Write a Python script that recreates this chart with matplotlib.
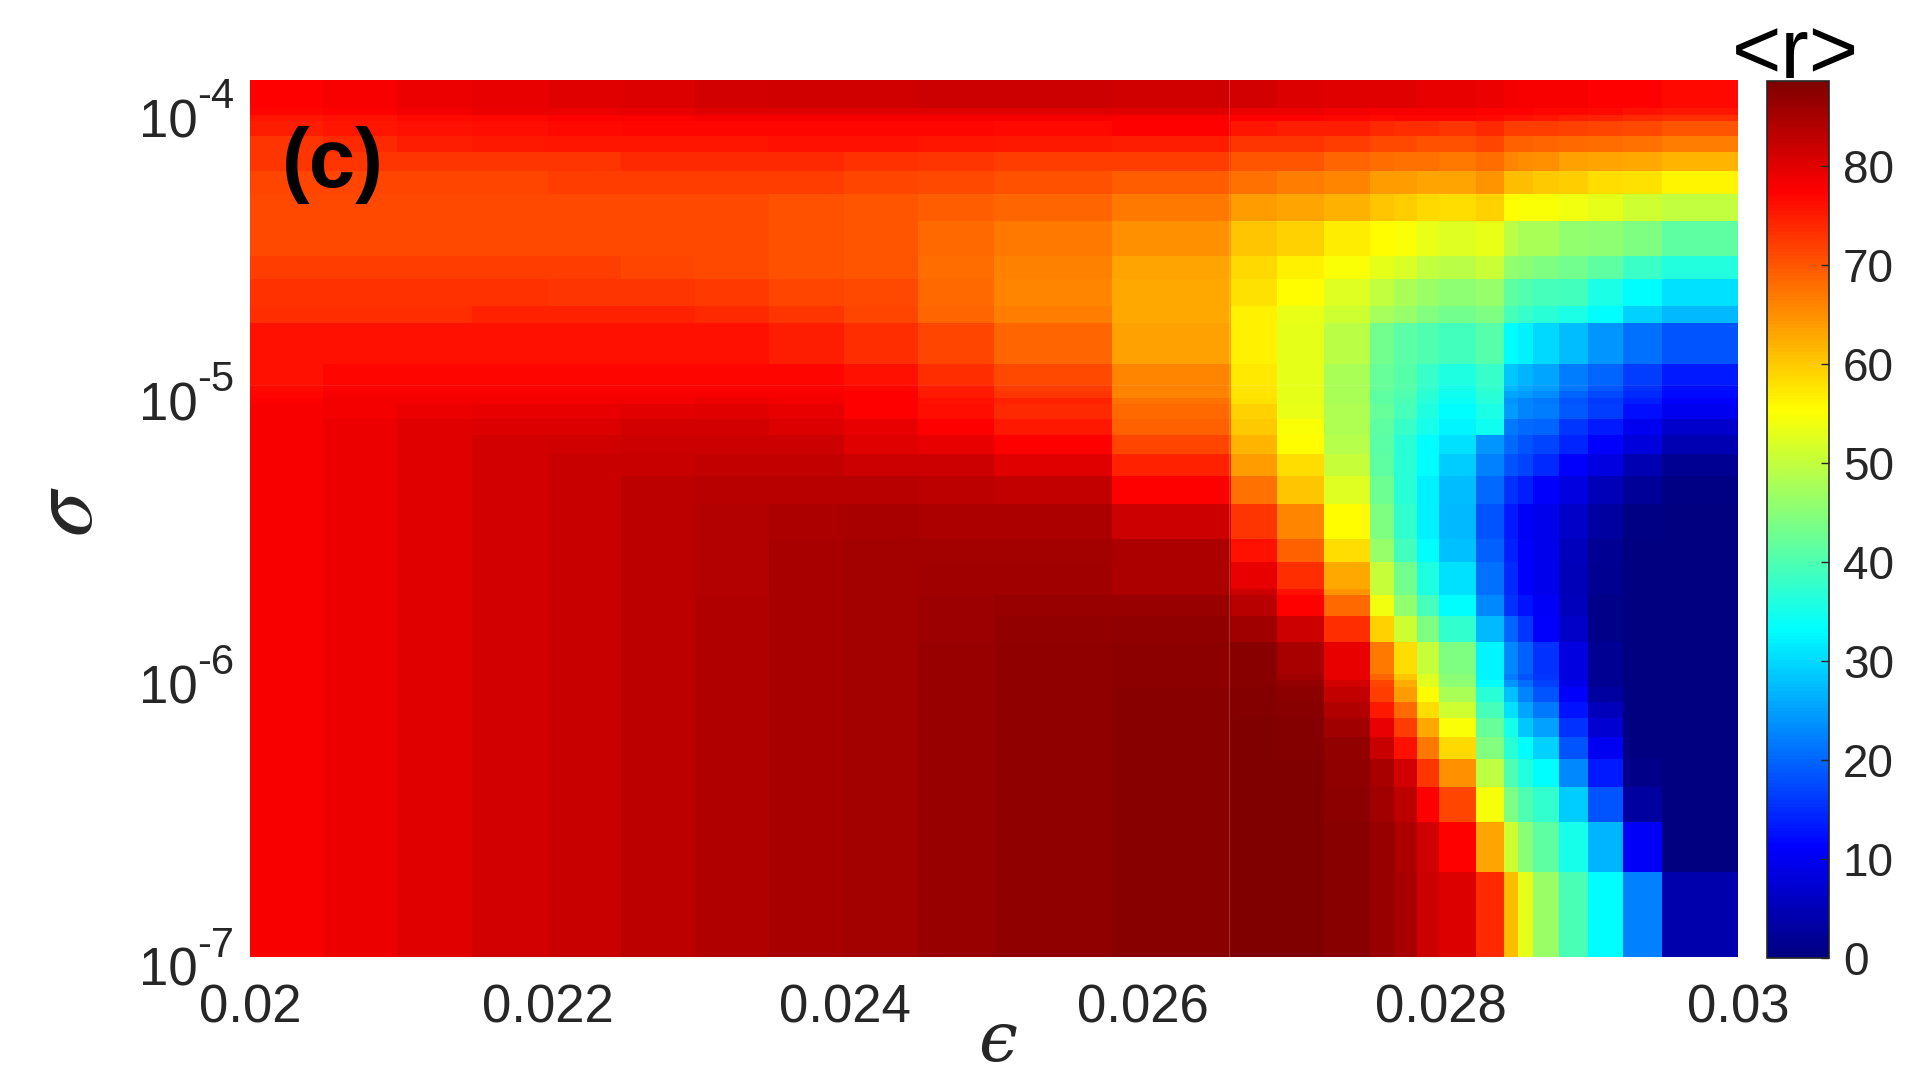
import numpy as np
import matplotlib
matplotlib.use("Agg")
import matplotlib.pyplot as plt
from matplotlib.colors import LinearSegmentedColormap

plt.rcParams["font.family"] = ["Liberation Sans", "DejaVu Sans"]
plt.rcParams["mathtext.fontset"] = "stix"

# cell edges
eps_edges = [0.0200, 0.02049, 0.02099, 0.02149, 0.02200, 0.02249, 0.02299, 0.02349, 0.02399,
             0.02449, 0.02500, 0.02579, 0.02659, 0.02690, 0.02722, 0.02753, 0.02769, 0.02784,
             0.02799, 0.02824, 0.02843, 0.02852, 0.02862, 0.02880, 0.02899, 0.02923, 0.02949, 0.0300]
sigma_edges = [1.26e-4, 1e-4, 9.5e-5, 9e-5, 8e-5, 7e-5, 6e-5, 5e-5, 4e-5, 3e-5, 2.5e-5, 2e-5, 1.75e-5,
               1.25e-5, 1.05e-5, 1e-5, 9.5e-6, 9e-6, 8e-6, 7e-6, 6e-6, 5e-6, 4e-6, 3e-6, 2.5e-6, 2e-6,
               1.9e-6, 1.6e-6, 1.3e-6, 1e-6, 9.5e-7, 9e-7, 8e-7, 7e-7, 6e-7, 5e-7, 4e-7, 3e-7, 2e-7, 1e-7]

# <r>, one row per sigma band, top to bottom
r_grid = [
    [77.5,78,79,79.5,80,80.5,81,81.5,81.5,82,82,81.5,81,80.5,80,80,80,79.5,79.5,79,78.5,78.2,78,78,77.5,77.4,76.5],
    [77,77.5,78.5,79,79,79.5,80,80,80,80,80,80,79,79,78.5,78,78,78,78,77.5,77.5,77.5,77,77,76.5,76,75.5],
    [75.5,76,76.5,77,77.5,77.8,78,78,78,78,78,77.8,77.5,77.3,77,76.5,77,77,77,76.5,76,76,75.5,75,74.5,74,73.5],
    [75,75.5,76,76.3,76.5,77,77,77,77,77,76.8,77.5,75.7,75,75,74,73.5,73.5,73,74,72,72,72,71.8,71.4,71,70],
    [73,74,75,75.2,75.5,75.5,75.5,76,76,75.5,75.3,75,73,72.7,72.3,71.2,71,70.5,70.5,71.5,69.2,69.2,68.8,68.4,68,67.5,66.6],
    [72.7,72.7,73,73,73,74,74,74,73.3,73,72.3,72.3,70,70,68.8,68,67.5,67.5,67,68,65.8,65.3,65,63.6,63.2,62.7,61.8],
    [71.4,71.4,71.4,71.4,72,72,72,72,71.5,71,70.5,69.5,67.5,66.6,65.8,64,64,63.2,63.2,64.5,61,61,60,59.7,58.4,58,56.2],
    [71,71,71,71,71,71,71,70.5,70,69.5,68.7,67,64,63.2,62,60.5,59.7,58.8,58.4,59.2,55.4,55,54.7,54,53,51,50],
    [71,71,71,71,71,71,71,70.5,70,68.5,67,65,60.5,59.2,57,55.4,55,53.6,52.3,53.6,49.3,48,48,45.8,45.4,44,41.5],
    [72,72,72,72,72,71.5,71,70.5,70,68,66.2,63.2,58.8,56.6,55,53,52,50,49.3,50.6,45.8,45,44,43.2,41.5,38.4,36.2],
    [73.2,73.2,73.2,73.2,73,73,72.5,71.5,71,68.5,65.8,62.7,58,55.4,52.3,50,48,46.7,45.4,46.2,41.5,40.2,39.3,39,35.4,33.2,30.6],
    [73.6,73.6,73.6,74.5,74.5,74.5,74,72.7,71.4,68.8,66.6,62.7,56.6,53.6,51,47.5,46.2,44.5,43.2,44,39.3,38,37,35.4,33.2,29.4,27.2],
    [75.8,75.8,75.8,75.8,75.8,75.8,75.8,75,73.6,71.4,68.8,63.6,56.6,53,49.3,43,41,40,38.8,40.6,33.2,32,30,27.6,24,21,18.5],
    [75.8,77,77,77,77,77,77,77,76,73.6,71,65.8,57.3,53,48,42,40.6,38,35.8,38,28.5,26.7,25.4,22,19.8,16.3,13.3],
    [76.5,77.5,77.5,77.5,77.5,77.5,77.5,77.5,77,75,72.3,66.2,57.5,53,48,42,40.6,37.5,35,37.5,27.2,25.9,24.6,21.5,19,15.4,12.4],
    [77,78,78,78,78,78,78,78,77.5,75.3,73,66,57.5,53,48,41.5,40,37,34.5,37,25.5,24.6,23.4,20,17.6,14.6,11.8],
    [77.5,78.5,78.5,78.5,78.5,78.5,79,78.5,77.5,76,74.5,67.5,58,53,48,41.5,39.5,36.5,34,36.5,24,22.5,21.5,18.5,16,13.5,11],
    [78,78.4,79,79.5,79.5,79.7,80,79.5,77.5,76.3,74,68.4,59.2,53.6,48.4,42,39.3,35.8,33,35.4,24.6,22.8,22,19,16.3,12.4,9.8],
    [78,79,80,80.5,80.5,81,81,80.5,79.5,77.5,75.3,69.2,60,54.7,48.4,41.5,38,35,32.4,34.5,21.5,20.2,19.8,15.9,13.3,9.8,6.7],
    [78,79,80.2,81,81.5,82,82,82,80,79.5,77.5,71.4,61.8,55.4,49,41,37,33.2,30.6,24,20.2,18.5,17,14.2,11,8,4.5],
    [78,79,80.2,81.3,82.3,82.3,82.5,82.5,82,82,80,74.5,64,58.4,50.2,41.5,36.7,33.2,29,22.4,18.5,17,14.6,11,8.5,4.5,2],
    [78,79,80.2,81.3,82.3,83.2,83.6,83.6,83.6,83.4,82.5,77.5,67.5,60.5,52.3,42.8,36.7,32,27.6,20.2,15.4,13.7,11,8.5,5,2.4,0.6],
    [78,79,80.2,81.3,82.3,83.4,84,84.5,85,84.7,84.7,82,73,65.8,55.4,44,37.5,32,27.2,18.5,13.3,10.4,9.5,6.3,2.8,0.6,0],
    [78,79,80.2,81.3,82.3,83.4,84,84.8,85.2,85.3,85.3,84.5,75.8,69.2,58.4,46.2,38.8,33.2,28,19.4,14,11,9.5,5.4,2,0,0],
    [78,79,80.2,81.3,82.3,83.4,84,84.8,85.2,85.8,85.8,84.7,79.6,73.6,62.7,50.2,43,35.8,30.6,21,14.6,11,9.5,5,1.5,0,0],
    [78,79,80.2,81.3,82.3,83.4,84,84.8,85.2,85.8,85.8,84.7,82,76,64.5,50.2,43,35.8,30.6,21,14.6,11,9.5,5,1.5,0,0],
    [78,79,80.2,81.3,82.3,83.4,84.2,84.8,85.3,86,86.3,86.3,83.6,77.5,68.4,54,45.8,39.3,33.2,23.1,15.4,12.8,10.7,5.4,1,0,0],
    [78,79,80.2,81.3,82.3,83.4,84.2,84.8,85.4,86.1,86.8,87,85.8,82,73.6,59.2,51,44,37.5,27.2,19.8,15.9,11,6.3,1,0,0],
    [78,79,80.2,81.3,82.3,83.4,84.2,84.8,85.4,86.2,87,87.4,87.6,85,79.3,67,58.4,50.2,44,32.4,23.1,19.4,15.4,8.5,2,0,0],
    [78,79,80.2,81.3,82.3,83.4,84.2,84.8,85.4,86.2,87,87.5,87.6,85.8,79.6,68.8,60.5,52.3,45,32.4,22,18.5,15.9,8.5,2,0,0],
    [78,79,80.2,81.3,82.3,83.4,84.2,84.8,85.4,86.2,87,87.5,87.6,86.7,81,71.4,62.3,52.8,45.4,33.2,24,20.6,16.8,9,2,0,0],
    [78,79,80.2,81.3,82.3,83.4,84.2,84.8,85.4,86.2,87,87.8,88,87.5,82.7,72.3,64,55.4,48,37,28,22.8,18.5,11,2.8,0,0],
    [78,79,80.2,81.3,82.3,83.4,84.3,84.9,85.4,86.2,87,87.9,88.2,87.8,84.2,75.3,68.4,58.4,51,39.3,30.6,25.4,21.5,12.7,5.4,0,0],
    [78,79,80.2,81.3,82.3,83.4,84.3,84.9,85.4,86.2,87,87.9,88.3,88.1,85.8,79.6,72,62.7,54.7,41.9,35,28.5,25,15.4,7.6,0.2,0],
    [78,79,80.2,81.3,82.3,83.4,84.3,84.9,85.4,86.2,87,87.9,88.4,88.2,86.7,82.3,75.8,67,58.8,44.5,37,33.2,29.4,18.5,10.3,0.2,0],
    [78,79,80.2,81.3,82.3,83.4,84.3,84.9,85.4,86.2,87,87.9,88.4,88.4,87.2,85,81,73,65,49.7,40,36,33.2,23.1,13.3,1,0],
    [78,79,80.2,81.3,82.3,83.4,84.3,84.9,85.4,86.2,87,87.9,88.5,88.5,87.5,85.5,83.3,77.5,71.4,54.5,44,40,37.5,29,18.5,3,0],
    [78,79,80.2,81.3,82.3,83.4,84.3,84.9,85.4,86.2,87,87.9,88.5,88.5,87.8,86.5,84.5,81.5,77.5,63.2,51,45,41.5,35,26.7,10.7,0],
    [78,79,80.2,81.3,82.3,83.4,84.3,84.9,85.4,86.2,87,87.9,88.5,88.5,87.8,86.5,85,82,80.5,74,61,53,46.7,39.7,33,22.4,4.1],
]

x_ticks = [0.02, 0.022, 0.024, 0.026, 0.028, 0.03]
x_labels = ["0.02", "0.022", "0.024", "0.026", "0.028", "0.03"]
y_ticks = [1e-4, 1e-5, 1e-6, 1e-7]
y_powers = ["-4", "-5", "-6", "-7"]
cb_ticks = [0, 10, 20, 30, 40, 50, 60, 70, 80]

W, H = 1920, 1075
dark = "#262626"

jet_m = LinearSegmentedColormap.from_list("jet_m", [
    (0, (0, 0, 0.5)), (0.125, (0, 0, 1)), (0.375, (0, 1, 1)),
    (0.625, (1, 1, 0)), (0.875, (1, 0, 0)), (1, (0.5, 0, 0))], N=256)

fig = plt.figure(figsize=(W / 100, H / 100), dpi=100)
ax = fig.add_axes([250 / W, 1 - 957 / H, 1488 / W, 877 / H])
mesh = ax.pcolormesh(eps_edges, sigma_edges, np.array(r_grid), cmap=jet_m, vmin=0, vmax=88.6,
                     antialiased=False, linewidth=0)
ax.set_yscale("log")
ax.set_xlim(0.02, 0.03)
ax.set_ylim(1e-7, 1.26e-4)
ax.minorticks_off()

# faint seams left in the original raster
ax.axvline(0.02658, color="white", alpha=0.2, lw=0.8)
ax.axhline(1.05e-5, color="white", alpha=0.1, lw=0.8)

for s in ax.spines.values():
    s.set_visible(False)
ax.set_xticks(x_ticks)
ax.set_xticklabels(x_labels, fontsize=38, color=dark)
ax.tick_params(axis="x", length=0, pad=19)
ax.set_yticks(y_ticks)
ax.set_yticklabels([])
ax.tick_params(axis="y", length=0, which="both")

# decade labels: "10" and its power are two pieces so the short hyphen stays
for v, p in zip(y_ticks, y_powers):
    ax.annotate("10", xy=(0, v), xycoords=("axes fraction", "data"), xytext=(-52, -29),
                textcoords="offset pixels", ha="right", va="baseline", fontsize=38, color=dark)
    ax.annotate(p, xy=(0, v), xycoords=("axes fraction", "data"), xytext=(-16, 0),
                textcoords="offset pixels", ha="right", va="baseline", fontsize=30, color=dark)

fig.text(997 / W, 1 - 1061 / H, "\u03f5", fontsize=50, color=dark, ha="center", va="baseline",
         family=["DejaVu Serif", "DejaVu Sans"], style="italic")
fig.text(68 / W, 1 - 512 / H, r"$\sigma$", fontsize=66, color=dark, rotation=90, ha="center", va="center")
fig.text(333 / W, 1 - 187 / H, "(c)", fontsize=60, fontweight="bold", color="black", ha="center", va="baseline")

cax = fig.add_axes([1767 / W, 1 - 958 / H, 62 / W, 877 / H])
cb = fig.colorbar(mesh, cax=cax)
cb.set_ticks(cb_ticks)
cb.ax.tick_params(direction="in", length=6, width=1, color=dark, labelsize=33, labelcolor=dark, pad=10)
cb.outline.set_edgecolor(dark)
cb.outline.set_linewidth(1.2)
fig.text(1796 / W, 1 - 78 / H, "<r>", fontsize=61, color="black", ha="center", va="baseline")

fig.savefig("out.png", dpi=100)
